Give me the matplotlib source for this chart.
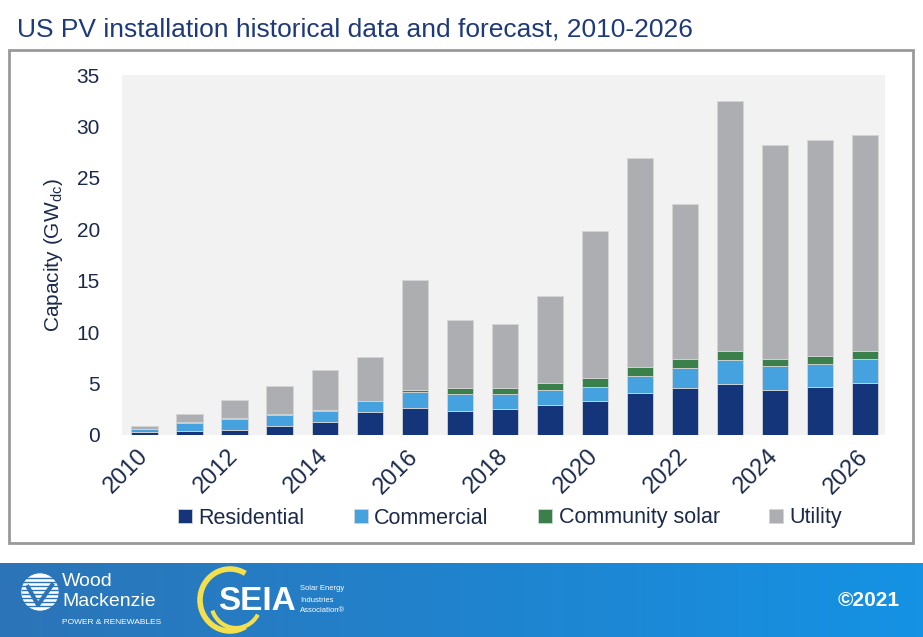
import numpy as np
import matplotlib
matplotlib.use("Agg")
import matplotlib.pyplot as plt
from matplotlib.patches import Rectangle, Circle, Arc
from matplotlib.colors import LinearSegmentedColormap

# data (GWdc)
years = list(range(2010, 2027))
residential = [0.25, 0.35, 0.5, 0.85, 1.3, 2.2, 2.65, 2.3, 2.5, 2.9, 3.3, 4.1, 4.6, 5.0, 4.4, 4.7, 5.1]
commercial = [0.35, 0.85, 1.1, 1.1, 1.05, 1.1, 1.5, 1.7, 1.5, 1.5, 1.4, 1.6, 1.9, 2.3, 2.3, 2.2, 2.3]
community = [0.0, 0.05, 0.05, 0.05, 0.05, 0.05, 0.25, 0.6, 0.6, 0.7, 0.85, 0.95, 0.9, 0.9, 0.7, 0.8, 0.8]
utility = [0.3, 0.75, 1.8, 2.8, 3.9, 4.2, 10.7, 6.6, 6.2, 8.4, 14.25, 20.25, 15.1, 24.3, 20.8, 21.0, 21.0]

series = [residential, commercial, community, utility]
labels = ["Residential", "Commercial", "Community solar", "Utility"]
colors = ["#14357A", "#45A2DE", "#3A804A", "#ADAEB1"]

navy = "#1B2A4A"

fig = plt.figure(figsize=(9.23, 6.37), dpi=100)
plt.rcParams["font.family"] = ["Liberation Sans", "DejaVu Sans"]

# title
fig.text(17 / 923, 1 - 30 / 637, "US PV installation historical data and forecast, 2010-2026",
         fontsize=19, color="#1F3A7A", va="center", ha="left",
         family=["Liberation Sans Narrow", "Liberation Sans"])

# outer frame
fig.patches.append(Rectangle((9 / 923, 1 - 543 / 637), 904 / 923, 493 / 637,
                             transform=fig.transFigure, fill=False,
                             edgecolor="#999999", linewidth=2))

ax = fig.add_axes([122 / 923, 1 - 435 / 637, 763 / 923, 360 / 637])
ax.set_facecolor("#F2F2F2")

x = np.arange(len(years))
bottom = np.zeros(len(years))
for vals, lab, col in zip(series, labels, colors):
    ax.bar(x, vals, width=0.58, bottom=bottom, color=col, label=lab,
           edgecolor="#D4D4D4", linewidth=0.6)
    bottom += np.array(vals)

ax.set_ylim(0, 35)
ax.set_xlim(-0.5, 16.45)
ax.set_yticks(range(0, 36, 5))
ax.set_xticks(x[::2])
ax.set_xticklabels([str(y) for y in years[::2]], rotation=45, ha="right", va="center",
                   rotation_mode="anchor")
ax.tick_params(axis="both", length=0, labelsize=15, colors=navy)
ax.tick_params(axis="x", labelsize=17, pad=13)
ax.tick_params(axis="y", pad=16)
for s in ax.spines.values():
    s.set_visible(False)
ax.set_ylabel("Capacity (GW$_{\\mathregular{dc}}$)", fontsize=15, color=navy, labelpad=8)

handles, lbls = ax.get_legend_handles_labels()
leg = fig.legend(handles, lbls, loc="center", bbox_to_anchor=(510 / 923, 1 - 518 / 637),
                 ncol=4, frameon=False, fontsize=15.5, handlelength=0.65, handleheight=0.65,
                 handletextpad=0.3, columnspacing=2.3, labelcolor=navy)

# footer band with gradient
fax = fig.add_axes([0, 0, 1, 74 / 637])
grad = np.linspace(0, 1, 256).reshape(1, -1)
cmap = LinearSegmentedColormap.from_list("band", ["#2C74B7", "#1592E4"])
fax.imshow(grad, aspect="auto", cmap=cmap, extent=[0, 923, 0, 74])
fax.set_xlim(0, 923)
fax.set_ylim(0, 74)
fax.axis("off")

# Wood Mackenzie mark
fax.add_patch(Circle((40, 45), 18, color="white"))
for yy in np.arange(31, 61, 4):
    fax.plot([22, 58], [yy, yy], color="#2C74B7", lw=1)
fax.plot([28, 38, 52], [50, 32, 52], color="#2C74B7", lw=3)
fax.text(62, 55, "Wood", color="white", fontsize=14, va="center", ha="left",
         family=["Liberation Sans Narrow", "Liberation Sans"])
fax.text(62, 35, "Mackenzie", color="white", fontsize=14, va="center", ha="left",
         family=["Liberation Sans Narrow", "Liberation Sans"])
fax.text(62, 14, "POWER & RENEWABLES", color="white", fontsize=6, va="center", ha="left")

# SEIA mark
fax.add_patch(Arc((230, 37), 60, 62, theta1=60, theta2=300, color="#F4E04D", lw=4))
fax.add_patch(Arc((236, 35), 50, 52, theta1=200, theta2=330, color="#F4E04D", lw=3))
fax.text(218, 36, "SEIA", color="white", fontsize=24, fontweight="bold", va="center", ha="left",
         family=["Liberation Sans Narrow", "Liberation Sans"])
fax.text(300, 48, "Solar Energy", color="white", fontsize=5.5, va="center", ha="left")
fax.text(300, 37, "Industries", color="white", fontsize=5.5, va="center", ha="left")
fax.text(300, 26, "Association®", color="white", fontsize=5.5, va="center", ha="left")

fax.text(900, 37, "©2021", color="white", fontsize=15, fontweight="bold", va="center", ha="right")

fig.savefig("out.png", dpi=100)
